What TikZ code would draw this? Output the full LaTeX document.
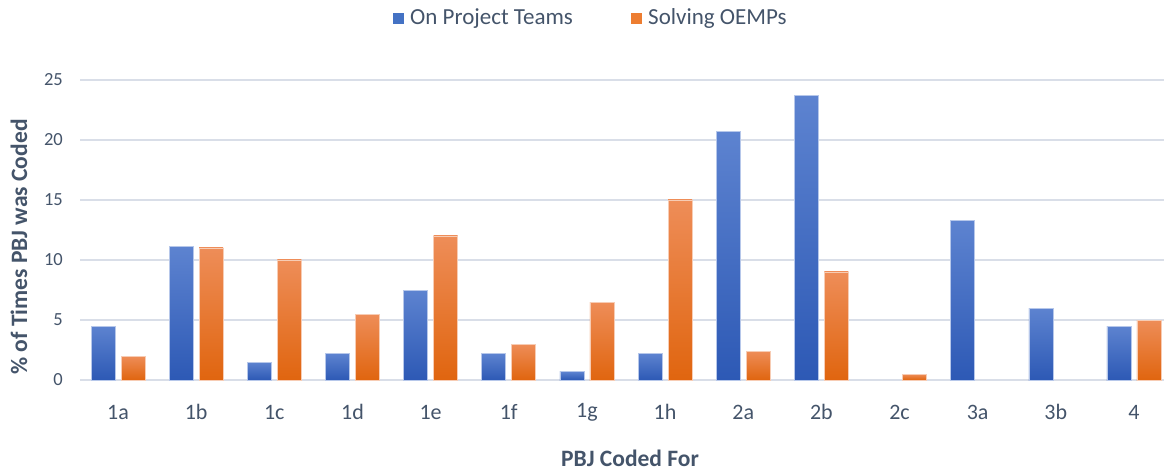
\documentclass[tikz,border=0pt]{standalone}
\usepackage{fontspec}
\setmainfont{Carlito}
\definecolor{txt}{HTML}{44546A}
\definecolor{grid}{HTML}{D9DEE8}
\definecolor{blueT}{HTML}{5D83D0}
\definecolor{blueB}{HTML}{2D59B5}
\definecolor{orT}{HTML}{EE8D58}
\definecolor{orB}{HTML}{E0650F}
\definecolor{blueL}{HTML}{4472C4}
\definecolor{orL}{HTML}{ED7D31}
\tikzset{
  gridline/.style={draw=grid, line width=1.6pt},
  tick/.style={text=txt, font=\fontsize{18.5}{20}\selectfont, inner sep=0pt},
  catlabel/.style={text=txt, font=\fontsize{22}{24}\selectfont, inner sep=0pt},
  axtitle/.style={text=txt, font=\fontsize{23.5}{25}\selectfont\bfseries, inner sep=0pt},
  legtext/.style={text=txt, font=\fontsize{23}{25}\selectfont, inner sep=0pt, anchor=west},
  bluebar/.style={top color=blueT, bottom color=blueB, draw=blueT!45!white, line width=0.6pt},
  orbar/.style={top color=orT, bottom color=orB, draw=orT!45!white, line width=0.6pt},
}
\begin{document}
\begin{tikzpicture}[x=1pt, y=-1pt]
\useasboundingbox (0,0) rectangle (1164,470);
% gridlines and value labels
\foreach \v in {0,5,...,25} {
  \draw[gridline] (80,{380-12*\v}) -- (1164,{380-12*\v});
  \node[tick, anchor=east] (yl\v) at (63,{380-12*\v}) {\v};
}
% bars: blue = on project teams, orange = solving OEMPs
\foreach \lab/\b/\o [count=\i from 0] in
  {1a/4.5/2, 1b/11.1/11, 1c/1.5/10, 1d/2.2/5.5, 1e/7.5/12, 1f/2.2/3,
   1g/0.7/6.5, 1h/2.2/15, 2a/20.7/2.4, 2b/23.7/9, 2c/0/0.5, 3a/13.3/0,
   3b/6/0, 4/4.5/5} {
  \pgfmathsetmacro{\cx}{118+78.15*\i}
  \ifdim \b pt>0pt
    \path[bluebar] ({\cx-27},380) rectangle ({\cx-3},{380-12*\b});
  \fi
  \ifdim \o pt>0pt
    \path[orbar] ({\cx+3},380) rectangle ({\cx+27},{380-12*\o});
  \fi
  \node[catlabel] (cat\i) at (\cx,412) {\lab};
}
% axis titles
\node[axtitle, rotate=90] (ytitle) at (19,247) {\% of Times PBJ was Coded};
\node[axtitle] (xtitle) at (630,458) {PBJ Coded For};
% legend
\fill[blueL] (393,13.3) rectangle (404,24.3);
\node[legtext] (leg1) at (410,18.5) {On Project Teams};
\fill[orL] (631,13.3) rectangle (642,24.3);
\node[legtext] (leg2) at (648,18.5) {Solving OEMPs};
\end{tikzpicture}
\end{document}
